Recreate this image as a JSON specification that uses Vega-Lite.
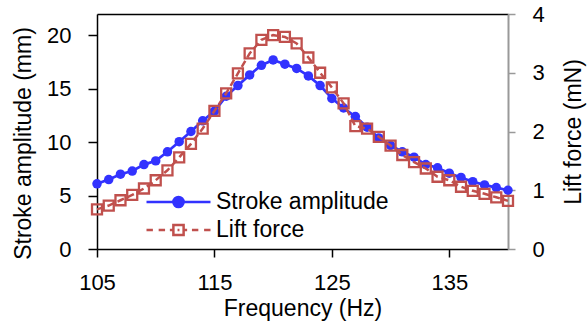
{
  "$schema": "https://vega.github.io/schema/vega-lite/v6.json",
  "width": 411,
  "height": 235,
  "autosize": {"type": "none"},
  "padding": {"left": 97, "top": 14, "right": 80, "bottom": 74},
  "config": {
    "view": {"stroke": null},
    "font": "Liberation Sans",
    "axis": {"grid": false, "labelColor": "black", "titleColor": "black", "titleFontWeight": "normal", "labelFont": "Liberation Sans", "titleFont": "Liberation Sans", "labelFlush": false}
  },
  "data": {
    "values": [
      {"f": 105, "amp": 6.1, "lift": 0.675},
      {"f": 106, "amp": 6.5, "lift": 0.74},
      {"f": 107, "amp": 7.0, "lift": 0.83},
      {"f": 108, "amp": 7.3, "lift": 0.92},
      {"f": 109, "amp": 7.9, "lift": 1.03},
      {"f": 110, "amp": 8.25, "lift": 1.17},
      {"f": 111, "amp": 9.1, "lift": 1.34},
      {"f": 112, "amp": 10.05, "lift": 1.56},
      {"f": 113, "amp": 11.0, "lift": 1.79},
      {"f": 114, "amp": 12.0, "lift": 2.05},
      {"f": 115, "amp": 12.9, "lift": 2.35},
      {"f": 116, "amp": 14.3, "lift": 2.65},
      {"f": 117, "amp": 15.3, "lift": 2.99},
      {"f": 118, "amp": 16.3, "lift": 3.33},
      {"f": 119, "amp": 17.2, "lift": 3.56},
      {"f": 120, "amp": 17.7, "lift": 3.64},
      {"f": 121, "amp": 17.3, "lift": 3.61},
      {"f": 122, "amp": 16.9, "lift": 3.5},
      {"f": 123, "amp": 16.2, "lift": 3.26},
      {"f": 124, "amp": 15.3, "lift": 3.0},
      {"f": 125, "amp": 14.1, "lift": 2.75},
      {"f": 126, "amp": 13.2, "lift": 2.48},
      {"f": 127, "amp": 12.4, "lift": 2.09},
      {"f": 128, "amp": 11.4, "lift": 2.05},
      {"f": 129, "amp": 10.4, "lift": 1.91},
      {"f": 130, "amp": 9.7, "lift": 1.76},
      {"f": 131, "amp": 9.1, "lift": 1.6},
      {"f": 132, "amp": 8.6, "lift": 1.48},
      {"f": 133, "amp": 7.9, "lift": 1.37},
      {"f": 134, "amp": 7.6, "lift": 1.23},
      {"f": 135, "amp": 7.1, "lift": 1.17},
      {"f": 136, "amp": 6.7, "lift": 1.06},
      {"f": 137, "amp": 6.3, "lift": 0.99},
      {"f": 138, "amp": 6.0, "lift": 0.94},
      {"f": 139, "amp": 5.75, "lift": 0.88},
      {"f": 140, "amp": 5.5, "lift": 0.82}
    ]
  },
  "layer": [
    {
      "encoding": {
        "x": {
          "field": "f", "type": "quantitative",
          "scale": {"domain": [105, 140], "nice": false, "zero": false},
          "axis": {
            "orient": "bottom", "values": [105, 115, 125, 135],
            "domainColor": "black", "domainWidth": 1.5,
            "tickColor": "black", "tickWidth": 1.5, "tickSize": 8,
            "labelFontSize": 22, "labelPadding": 15,
            "title": "Frequency (Hz)", "titleFontSize": 23, "titlePadding": 4
          }
        },
        "y": {
          "field": "amp", "type": "quantitative",
          "scale": {"domain": [0, 22], "nice": false},
          "axis": {
            "orient": "left", "values": [0, 5, 10, 15, 20],
            "domainColor": "black", "domainWidth": 1.5,
            "tickColor": "black", "tickWidth": 1.5, "tickSize": 9,
            "labelFontSize": 22, "labelPadding": 17,
            "title": "Stroke amplitude (mm)", "titleFontSize": 23, "titlePadding": 11,
            "titleY": 129
          }
        },
        "color": {"datum": "Stroke amplitude"}
      },
      "layer": [
        {"mark": {"type": "line", "strokeWidth": 2.7}},
        {"mark": {"type": "point", "shape": "circle", "filled": true, "size": 90, "opacity": 1}}
      ]
    },
    {
      "encoding": {
        "x": {
          "field": "f", "type": "quantitative",
          "axis": {
            "orient": "top", "labels": false, "ticks": false, "title": null,
            "domainColor": "black", "domainWidth": 1.5
          }
        },
        "y": {
          "field": "lift", "type": "quantitative",
          "scale": {"domain": [0, 4], "nice": false},
          "axis": {
            "orient": "right", "values": [0, 1, 2, 3, 4],
            "domainColor": "#999999", "domainWidth": 2,
            "tickColor": "#999999", "tickWidth": 1.5, "tickSize": 7,
            "labelFontSize": 22, "labelPadding": 17,
            "title": "Lift force (mN)", "titleFontSize": 23, "titlePadding": 18,
            "titleAngle": 270, "titleBaseline": "top"
          }
        },
        "color": {
          "datum": "Lift force",
          "scale": {"domain": ["Stroke amplitude", "Lift force"], "range": ["#3232ff", "#c0504d"]},
          "legend": {
            "title": null, "orient": "none", "legendX": 48, "legendY": 174,
            "padding": 0, "symbolSize": 4096, "clipHeight": 28, "rowPadding": 0,
            "labelFontSize": 23, "labelColor": "black", "labelOffset": 4, "labelFont": "Liberation Sans", "labelLimit": 400,
            "encode": {
              "symbols": {
                "update": {
                  "shape": {"signal": "datum.value === 'Stroke amplitude' ? 'M-1,0H1M0.16,0A0.16,0.16,0,1,1,-0.16,0A0.16,0.16,0,1,1,0.16,0Z' : 'M-1,0H-0.8M-0.62,0H-0.42M-0.27,0H-0.16M0.16,0H0.27M0.42,0H0.62M0.8,0H1M-0.03,0H0.03M-0.16,-0.16H0.16V0.16H-0.16Z'"},
                  "fill": {"signal": "datum.value === 'Stroke amplitude' ? '#3232ff' : 'transparent'"},
                  "fillOpacity": {"signal": "datum.value === 'Stroke amplitude' ? 1 : 0"},
                  "stroke": {"signal": "datum.value === 'Stroke amplitude' ? '#3232ff' : '#c0504d'"},
                  "strokeWidth": {"value": 2.5},
                  "strokeDash": {"value": []},
                  "opacity": {"value": 1}
                }
              }
            }
          }
        }
      },
      "layer": [
        {"mark": {"type": "line", "strokeWidth": 2.5, "strokeDash": [7, 4]}},
        {"mark": {"type": "point", "shape": "square", "filled": false, "size": 100, "strokeWidth": 2.3, "opacity": 1}}
      ]
    }
  ],
  "resolve": {"scale": {"y": "independent"}, "axis": {"x": "independent"}}
}
